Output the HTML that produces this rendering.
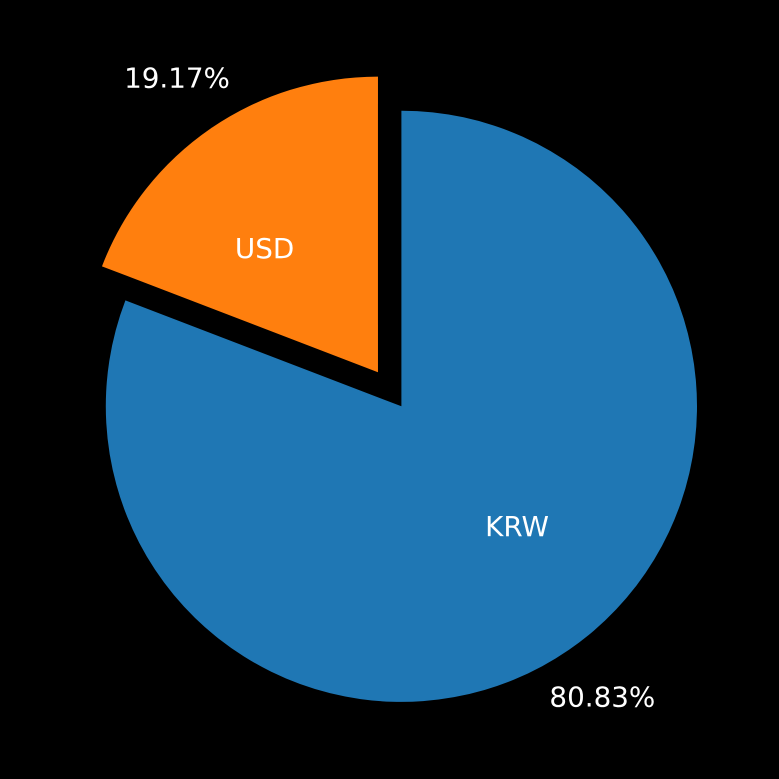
<!DOCTYPE html>
<html lang="en">
<head>
<meta charset="utf-8">
<title>Currency share pie chart</title>
<style>
  html, body { margin: 0; padding: 0; background: #000; }
  svg { display: block; }
  text { font-family: "DejaVu Sans", "Liberation Sans", sans-serif; font-size: 27.78px; fill: #fff; }
</style>
</head>
<body>
<svg id="chart" width="779" height="779" viewBox="0 0 779 779" xmlns="http://www.w3.org/2000/svg">
  <rect x="0" y="0" width="779" height="779" fill="#000000"></rect>
</svg>
<script>
const categories = ['KRW', 'USD'];
const shares = [80.83, 19.17];
const explodes = [0, 0.14];
const sliceColors = ['#1f77b4', '#ff7f0e'];

const svgNS = 'http://www.w3.org/2000/svg';
const chart = document.getElementById('chart');
const cx = 401.4, cy = 406.3, radius = 295.6;
const startAngle = 90, labelDistance = 0.5, pctDistance = 1.2;
const total = shares.reduce(function (a, b) { return a + b; }, 0);

function polar(ox, oy, r, deg) {
  const t = deg * Math.PI / 180;
  return [ox + r * Math.cos(t), oy - r * Math.sin(t)];
}

let angle = startAngle;
shares.forEach(function (value, i) {
  const sweep = value / total * 360;
  const a0 = angle, a1 = angle - sweep, mid = (a0 + a1) / 2;
  angle = a1;
  const origin = polar(cx, cy, explodes[i] * radius, mid);
  const p0 = polar(origin[0], origin[1], radius, a0);
  const p1 = polar(origin[0], origin[1], radius, a1);

  const slice = document.createElementNS(svgNS, 'path');
  
  
  slice.setAttribute('fill', sliceColors[i]);
  slice.setAttribute('d', 'M' + origin[0] + ' ' + origin[1] + 'L' + p0[0] + ' ' + p0[1] +
    'A' + radius + ' ' + radius + ' 0 ' + (sweep > 180 ? 1 : 0) + ' 1 ' + p1[0] + ' ' + p1[1] + 'Z');
  chart.appendChild(slice);

  const lp = polar(origin[0], origin[1], radius * labelDistance, mid);
  const label = document.createElementNS(svgNS, 'text');
  
  
  label.setAttribute('x', lp[0]);
  label.setAttribute('y', lp[1] + 7.7);
  label.setAttribute('text-anchor', lp[0] > origin[0] ? 'start' : 'end');
  label.textContent = categories[i];
  chart.appendChild(label);

  const pp = polar(origin[0], origin[1], radius * pctDistance, mid);
  const pct = document.createElementNS(svgNS, 'text');
  
  
  pct.setAttribute('x', pp[0]);
  pct.setAttribute('y', pp[1] + 7.7);
  pct.setAttribute('text-anchor', 'middle');
  pct.textContent = value.toFixed(2) + '%';
  chart.appendChild(pct);
});
</script>
</body>
</html>
